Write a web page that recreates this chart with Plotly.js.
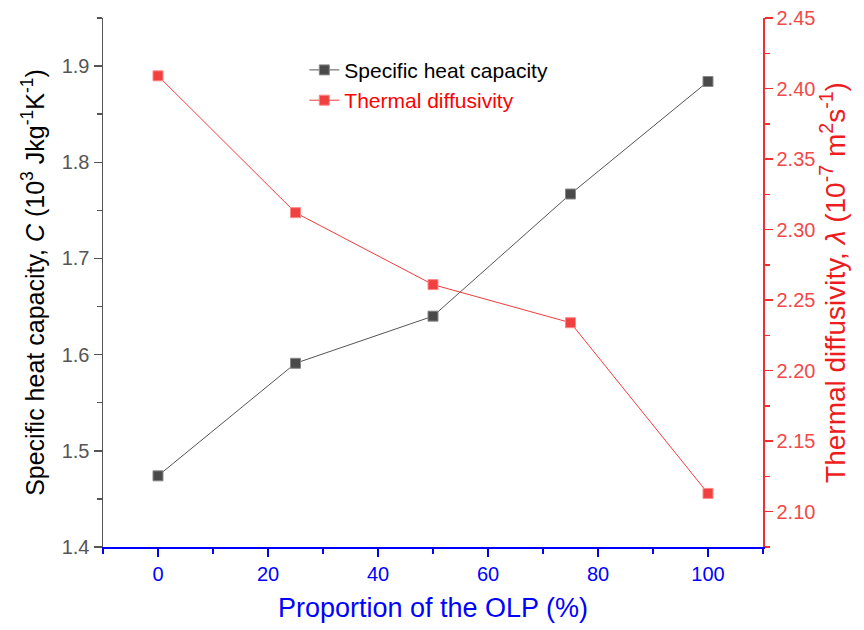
<!DOCTYPE html>
<html>
<head>
<meta charset="utf-8">
<script src="https://cdn.plot.ly/plotly-3.0.1.min.js"></script>
<style>html,body{margin:0;padding:0;background:#fff;}#chart{width:864px;height:630px;}</style>
</head>
<body>
<div id="chart"></div>
<script>
const olpProportion = [0, 25, 50, 75, 100];
const specificHeat = [1.474, 1.591, 1.640, 1.767, 1.884];
const thermalDiffusivity = [2.409, 2.312, 2.261, 2.234, 2.113];

const traces = [
  {
    x: olpProportion, y: specificHeat, name: 'Specific heat capacity',
    type: 'scatter', mode: 'lines+markers', yaxis: 'y',
    line: {color: '#555555', width: 1},
    marker: {symbol: 'square', size: 10, color: '#4a4a4a', line: {color: '#888888', width: 1}}
  },
  {
    x: olpProportion, y: thermalDiffusivity, name: '<span style="color:#ff0000">Thermal diffusivity</span>',
    type: 'scatter', mode: 'lines+markers', yaxis: 'y2',
    line: {color: '#f03c3c', width: 1},
    marker: {symbol: 'square', size: 10, color: '#f04040', line: {color: '#f88', width: 1}}
  }
];

const font = 'Liberation Sans, Arial, sans-serif';
const layout = {
  width: 864, height: 630,
  margin: {l: 103, r: 101, t: 18, b: 83},
  paper_bgcolor: '#fff', plot_bgcolor: '#fff',
  font: {family: font, size: 20, color: '#000'},
  showlegend: true,
  legend: {x: 0.305, y: 0.94, xanchor: 'left', yanchor: 'top', bgcolor: 'rgba(0,0,0,0)',
           font: {family: font, size: 21, color: '#000'}, tracegroupgap: 0},
  xaxis: {
    range: [-10, 110], dtick: 20, tick0: 0,
    showgrid: false, zeroline: false,
    showline: true, linecolor: '#0000ff', linewidth: 1.5,
    ticks: 'outside', ticklen: 8, tickwidth: 1.5, tickcolor: '#0000ff',
    minor: {dtick: 10, tick0: 0, ticklen: 5, tickwidth: 1.5, tickcolor: '#0000ff', ticks: 'outside'},
    tickfont: {family: font, size: 20, color: '#0000ff'},
    title: {text: 'Proportion of the OLP (%)', font: {family: font, size: 27, color: '#0000ff'}, standoff: 14}
  },
  yaxis: {
    range: [1.4, 1.95], dtick: 0.1, tick0: 1.4, tickformat: '.1f',
    showgrid: false, zeroline: false,
    showline: true, linecolor: '#555555', linewidth: 1.5,
    ticks: 'outside', ticklen: 8, tickwidth: 1.5, tickcolor: '#555555',
    minor: {dtick: 0.05, tick0: 1.4, ticklen: 5, tickwidth: 1.5, tickcolor: '#555555', ticks: 'outside'},
    tickfont: {family: font, size: 20, color: '#555555'},
    title: {text: 'Specific heat capacity, <i>C</i> (10<sup>3</sup> Jkg<sup>-1</sup>K<sup>-1</sup>)',
            font: {family: font, size: 25, color: '#000'}, standoff: 10}
  },
  yaxis2: {
    overlaying: 'y', side: 'right',
    range: [2.075, 2.45], dtick: 0.05, tick0: 2.1, tickformat: '.2f',
    showgrid: false, zeroline: false,
    showline: true, linecolor: '#f03030', linewidth: 1.5,
    ticks: 'outside', ticklen: 8, tickwidth: 1.5, tickcolor: '#f03030',
    minor: {dtick: 0.025, tick0: 2.1, ticklen: 5, tickwidth: 1.5, tickcolor: '#f03030', ticks: 'outside'},
    tickfont: {family: font, size: 20, color: '#f04a4a'},
    title: {text: 'Thermal diffusivity, <i>λ</i> (10<sup>-7</sup> m<sup>2</sup>s<sup>-1</sup>)',
            font: {family: font, size: 28, color: '#ee1c1c'}, standoff: 8}
  }
};

Plotly.newPlot('chart', traces, layout, {displayModeBar: false, staticPlot: true});
</script>
</body>
</html>
